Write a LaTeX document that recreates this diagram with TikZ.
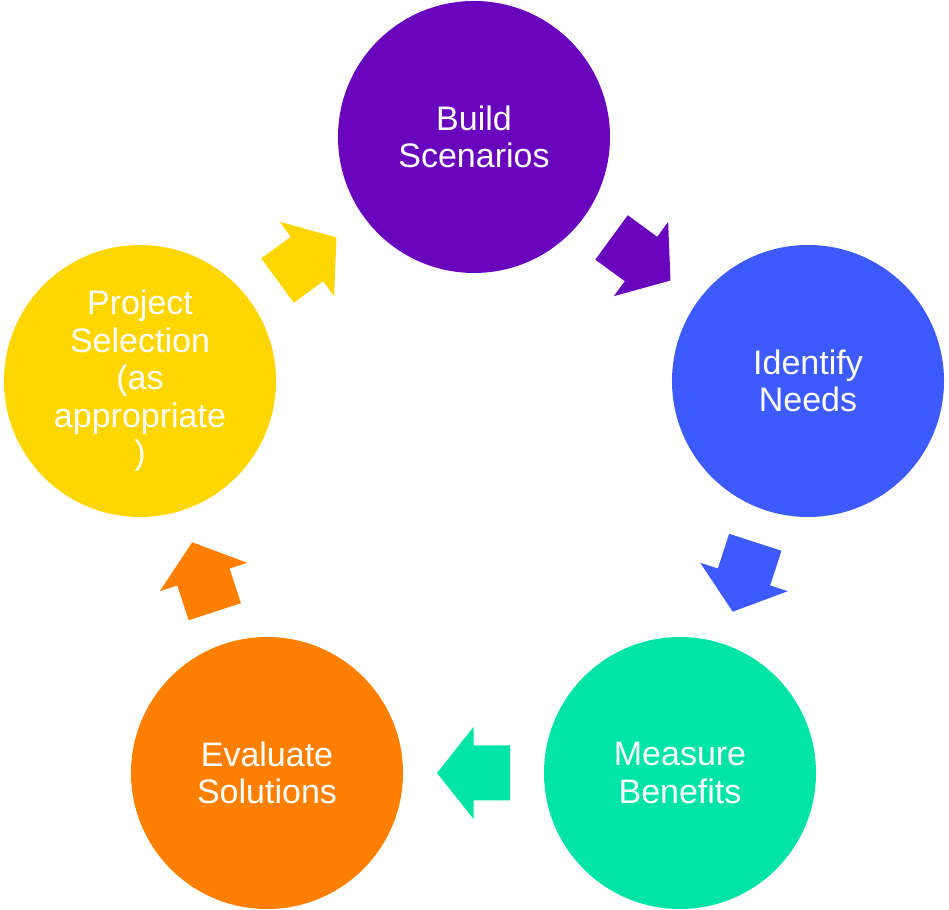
\documentclass[tikz,border=0pt]{standalone}
\usepackage{fontspec}
\setmainfont{Liberation Sans}
\definecolor{cpurple}{RGB}{106,5,190}
\definecolor{cblue}{RGB}{61,90,254}
\definecolor{cgreen}{RGB}{0,228,165}
\definecolor{corange}{RGB}{255,128,0}
\definecolor{cyellow}{RGB}{255,214,0}
\begin{document}
\begin{tikzpicture}[x=1pt,y=1pt,
  stage/.style={circle,minimum size=272pt,inner sep=0pt,text=white,align=center,
    font=\fontsize{34}{37.5}\selectfont},
  blockarrow/.pic={\fill[pic actions] (-36.5,-27.5) -- (0,-27.5) -- (0,-46) -- (36.5,0) -- (0,46) -- (0,27.5) -- (-36.5,27.5) -- cycle;}
]
\useasboundingbox (0,0) rectangle (949,909);
\node[stage,fill=cpurple] (b) at (474,772) {Build\\Scenarios};
\node[stage,fill=cblue] (i) at (808,528) {Identify\\Needs};
\node[stage,fill=cgreen] (m) at (680,136) {Measure\\Benefits};
\node[stage,fill=corange] (e) at (267,136) {Evaluate\\Solutions};
\node[stage,fill=cyellow] (p) at (140,528) {Project\\Selection\\(as\\appropriate\\)};
\path (b.center) -- (i.center) pic[pos=0.5,sloped,fill=cpurple] {blockarrow};
\path (i.center) -- (m.center) pic[pos=0.5,rotate=-108,fill=cblue] {blockarrow};
\path (m.center) -- (e.center) pic[pos=0.5,rotate=180,fill=cgreen] {blockarrow};
\path (e.center) -- (p.center) pic[pos=0.5,rotate=108,fill=corange] {blockarrow};
\path (p.center) -- (b.center) pic[pos=0.5,sloped,fill=cyellow] {blockarrow};
\end{tikzpicture}
\end{document}
